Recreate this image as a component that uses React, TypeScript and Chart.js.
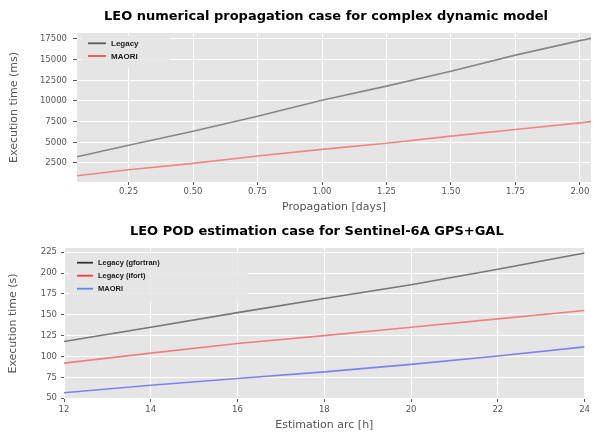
import { useEffect, useRef } from "react";
import { Chart, registerables } from "chart.js";

Chart.register(...registerables);

// ---------- Data: top chart (propagation) ----------
const PROP_TITLE = "LEO numerical propagation case for complex dynamic model";
const PROP_X_LABEL = "Propagation [days]";
const PROP_Y_LABEL = "Execution time (ms)";
const PROP_DAYS = [0.05, 0.25, 0.5, 0.75, 1.0, 1.25, 1.5, 1.75, 2.0, 2.043];
const PROP_LEGACY = [3250, 4650, 6350, 8150, 10100, 11800, 13600, 15550, 17300, 17580];
const PROP_MAORI = [950, 1680, 2450, 3350, 4150, 4880, 5750, 6560, 7350, 7500];
const PROP_SERIES = ["Legacy", "MAORI"];
const PROP_X_TICKS = [0.25, 0.5, 0.75, 1.0, 1.25, 1.5, 1.75, 2.0];
const PROP_Y_TICKS = [2500, 5000, 7500, 10000, 12500, 15000, 17500];

// ---------- Data: bottom chart (POD estimation) ----------
const POD_TITLE = "LEO POD estimation case for Sentinel-6A GPS+GAL";
const POD_X_LABEL = "Estimation arc [h]";
const POD_Y_LABEL = "Execution time (s)";
const POD_ARC_H = [12, 14, 16, 18, 20, 22, 24];
const POD_LEGACY_GF = [118, 135, 152.5, 169.5, 186, 204.5, 224];
const POD_LEGACY_IF = [92, 104, 115.5, 125, 135, 145, 155];
const POD_MAORI = [56.5, 65.5, 73.5, 81.5, 90.5, 100.5, 111.5];
const POD_SERIES = ["Legacy (gfortran)", "Legacy (ifort)", "MAORI"];
const POD_X_TICKS = [12, 14, 16, 18, 20, 22, 24];
const POD_Y_TICKS = [50, 75, 100, 125, 150, 175, 200, 225];

// ---------- Styles ----------
const FONT = "DejaVu Sans";
const TICK_COLOR = "#555555";
const PLOT_BG = "#e5e5e5";

const pts = (xs: number[], ys: number[]) => xs.map((x, i) => ({ x, y: ys[i] }));

const bgPlugin = {
  id: "ggbg",
  beforeDraw(chart: any, _a: any, opts: any) {
    const { ctx, chartArea: a } = chart;
    ctx.save();
    ctx.fillStyle = opts.color;
    ctx.fillRect(a.left, a.top, a.right - a.left, a.bottom - a.top);
    ctx.restore();
  },
};

const titlePlugin = {
  id: "ggtitle",
  afterDraw(chart: any, _a: any, opts: any) {
    const { ctx, chartArea: a } = chart;
    ctx.save();
    ctx.font = `bold ${opts.size}px '${FONT}'`;
    ctx.fillStyle = "#000";
    ctx.textAlign = "center";
    ctx.textBaseline = "middle";
    ctx.fillText(opts.text, (a.left + a.right) / 2 + opts.dx, opts.y);
    ctx.restore();
  },
};

const legendPlugin = {
  id: "gglegend",
  afterDatasetsDraw(chart: any, _a: any, opts: any) {
    const { ctx, chartArea: a } = chart;
    ctx.save();
    const [bx, by, bw, bh] = opts.box;
    ctx.fillStyle = "rgba(229,229,229,0.85)";
    ctx.fillRect(a.left + bx, a.top + by, bw, bh);
    ctx.font = `bold ${opts.fontSize}px 'Liberation Sans'`;
    ctx.textAlign = "left";
    ctx.textBaseline = "middle";
    chart.data.datasets.forEach((ds: any, i: number) => {
      const y = a.top + opts.rowY + i * opts.rowGap;
      ctx.strokeStyle = opts.colors[i];
      ctx.lineWidth = 1.8;
      ctx.beginPath();
      ctx.moveTo(a.left + opts.sampleX, y);
      ctx.lineTo(a.left + opts.sampleX + opts.sampleW, y);
      ctx.stroke();
      ctx.fillStyle = "#1a1a1a";
      ctx.fillText(ds.label, a.left + opts.textX, y + 0.5);
    });
    ctx.restore();
  },
};

function axis(o: {
  min: number;
  max: number;
  ticks: number[];
  fmt: (v: number) => string;
  title: string;
  titlePad: any;
  tickLength: number;
  tickPad: number;
  fitW?: number;
  fitH?: number;
}) {
  return {
    type: "linear" as const,
    bounds: "data" as const,
    min: o.min,
    max: o.max,
    afterBuildTicks: (s: any) => {
      s.ticks = o.ticks.map((v) => ({ value: v }));
    },
    afterFit: (s: any) => {
      if (o.fitW !== undefined) s.width = o.fitW;
      if (o.fitH !== undefined) s.height = o.fitH;
    },
    ticks: {
      callback: (v: any) => o.fmt(Number(v)),
      color: TICK_COLOR,
      font: { family: FONT, size: 8.5 },
      padding: o.tickPad,
      maxRotation: 0,
      autoSkip: false,
    },
    grid: {
      color: "#ffffff",
      lineWidth: 1,
      tickColor: TICK_COLOR,
      tickLength: o.tickLength,
      drawTicks: true,
    },
    border: { display: false },
    title: {
      display: true,
      text: o.title,
      color: TICK_COLOR,
      font: { family: FONT, size: 11 },
      padding: o.titlePad,
    },
  };
}

function baseLine(label: string, data: any[], color: string) {
  return {
    label,
    data,
    borderColor: color,
    backgroundColor: color,
    borderWidth: 1.6,
    pointRadius: 0,
    tension: 0,
    fill: false,
  };
}

export default function App() {
  const r1 = useRef<HTMLCanvasElement>(null);
  const r2 = useRef<HTMLCanvasElement>(null);

  useEffect(() => {
    const c1 = new Chart(r1.current!, {
      type: "line",
      data: {
        datasets: [
          baseLine(PROP_SERIES[0], pts(PROP_DAYS, PROP_LEGACY), "#878787"),
          baseLine(PROP_SERIES[1], pts(PROP_DAYS, PROP_MAORI), "#f08686"),
        ],
      },
      options: {
        responsive: false,
        animation: false,
        devicePixelRatio: 1,
        layout: { padding: { left: 0, right: 2, top: 33, bottom: 0 } },
        scales: {
          x: axis({
            min: PROP_DAYS[0],
            max: PROP_DAYS[PROP_DAYS.length - 1],
            ticks: PROP_X_TICKS,
            fmt: (v) => v.toFixed(2),
            title: PROP_X_LABEL,
            titlePad: { top: 0, bottom: 2.4 },
            tickLength: 3,
            tickPad: 2,
            fitH: 34,
          }),
          y: axis({
            min: 200,
            max: 18225,
            ticks: PROP_Y_TICKS,
            fmt: (v) => String(v),
            title: PROP_Y_LABEL,
            titlePad: { top: 8, bottom: 0 },
            tickLength: 4,
            tickPad: 6,
            fitW: 77,
          }),
        },
        plugins: {
          legend: { display: false },
          tooltip: { enabled: false },
          ggbg: { color: PLOT_BG },
          ggtitle: { text: PROP_TITLE, size: 13, y: 17, dx: -8 },
          gglegend: {
            box: [4, 2, 89, 33],
            sampleX: 11,
            sampleW: 18,
            textX: 34,
            rowY: 10.3,
            rowGap: 12.7,
            fontSize: 8,
            colors: ["#5a5a5a", "#ff4a4a"],
          },
        } as any,
      },
      plugins: [bgPlugin, titlePlugin, legendPlugin],
    } as any);

    const c2 = new Chart(r2.current!, {
      type: "line",
      data: {
        datasets: [
          baseLine(POD_SERIES[0], pts(POD_ARC_H, POD_LEGACY_GF), "#767676"),
          baseLine(POD_SERIES[1], pts(POD_ARC_H, POD_LEGACY_IF), "#f08080"),
          baseLine(POD_SERIES[2], pts(POD_ARC_H, POD_MAORI), "#8080f2"),
        ],
      },
      options: {
        responsive: false,
        animation: false,
        devicePixelRatio: 1,
        layout: { padding: { left: 0, right: 6, top: 32, bottom: 0 } },
        scales: {
          x: axis({
            min: POD_ARC_H[0],
            max: POD_ARC_H[POD_ARC_H.length - 1],
            ticks: POD_X_TICKS,
            fmt: (v) => String(v),
            title: POD_X_LABEL,
            titlePad: { top: 0, bottom: 1.4 },
            tickLength: 3,
            tickPad: 3,
            fitH: 34,
          }),
          y: axis({
            min: 49,
            max: 230,
            ticks: POD_Y_TICKS,
            fmt: (v) => String(v),
            title: POD_Y_LABEL,
            titlePad: { top: 6.4, bottom: 0 },
            tickLength: 3,
            tickPad: 4,
            fitW: 64,
          }),
        },
        plugins: {
          legend: { display: false },
          tooltip: { enabled: false },
          ggbg: { color: PLOT_BG },
          ggtitle: { text: POD_TITLE, size: 13, y: 16, dx: -7.5 },
          gglegend: {
            box: [5, 5, 179, 50],
            sampleX: 13,
            sampleW: 16,
            textX: 34,
            rowY: 14.7,
            rowGap: 13,
            fontSize: 7.5,
            colors: ["#333333", "#ff3a3a", "#5f85e6"],
          },
        } as any,
      },
      plugins: [bgPlugin, titlePlugin, legendPlugin],
    } as any);

    return () => {
      c1.destroy();
      c2.destroy();
    };
  }, []);

  return (
    <div style={{ position: "absolute", left: 0, top: 0, width: 593, height: 433, background: "#fff" }}>
      <canvas
        ref={r1}
        width={593}
        height={216}
        style={{ position: "absolute", left: 0, top: 0, width: 593, height: 216, display: "block" }}
      />
      <canvas
        ref={r2}
        width={593}
        height={217}
        style={{ position: "absolute", left: 0, top: 216, width: 593, height: 217, display: "block" }}
      />
    </div>
  );
}
